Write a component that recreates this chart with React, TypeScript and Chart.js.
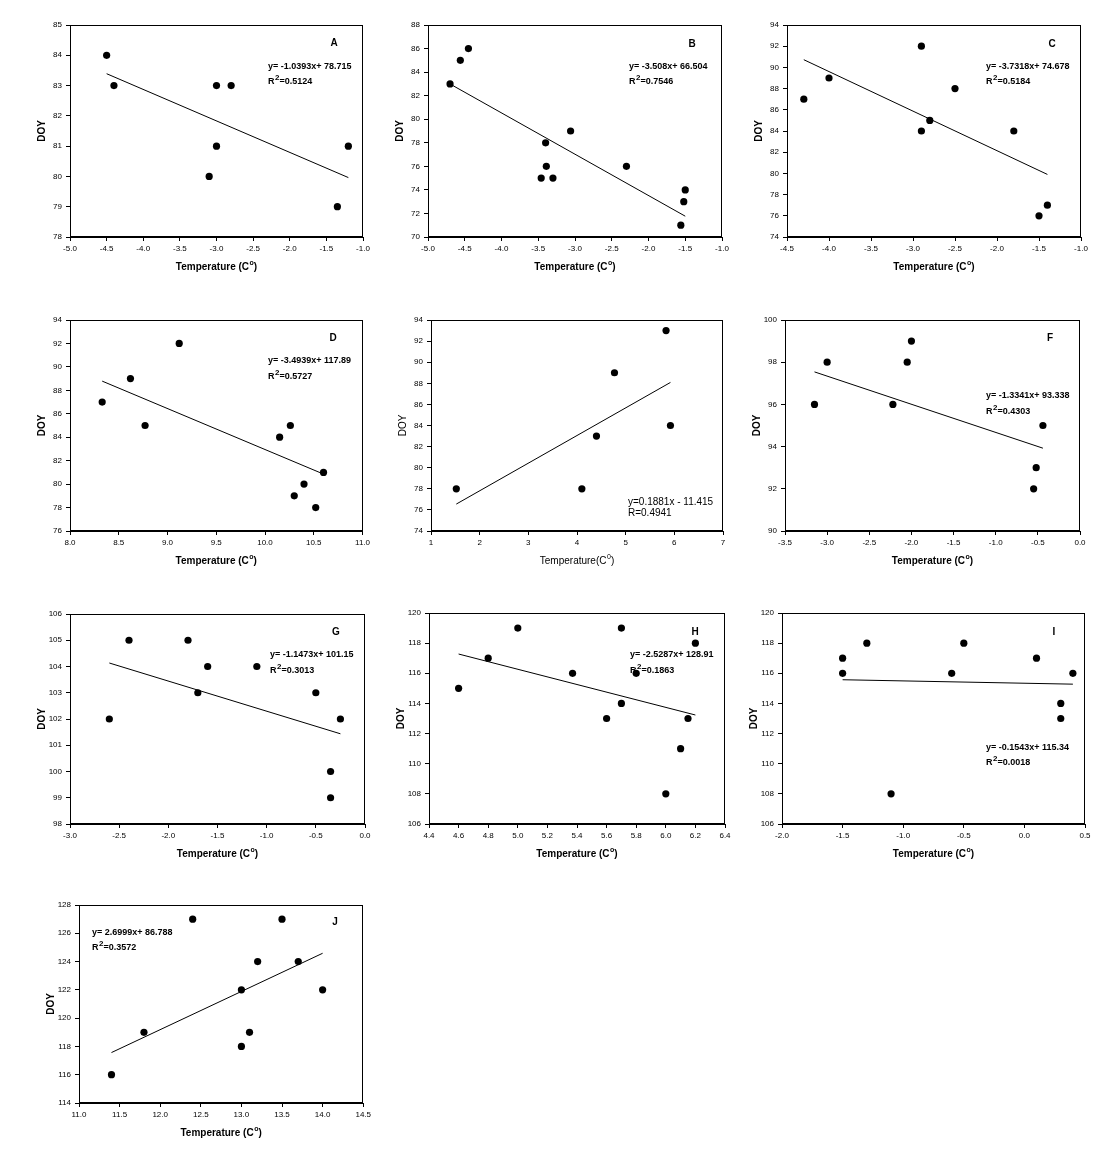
import React, { useEffect, useRef } from "react";
import { Chart, registerables } from "chart.js";

Chart.register(...registerables);

// ---------- data (Temperature °C, DOY) ----------
const tempA = [-4.5, -4.4, -3.0, -2.8, -3.0, -3.1, -1.2, -1.35];
const doyA = [84, 83, 83, 83, 81, 80, 81, 79];

const tempB = [-4.7, -4.56, -4.45, -3.06, -3.4, -3.39, -3.46, -3.3, -2.3, -1.5, -1.52, -1.56];
const doyB = [83, 85, 86, 79, 78, 76, 75, 75, 76, 74, 73, 71];

const tempC = [-4.3, -4.0, -2.9, -2.9, -2.8, -2.5, -1.8, -1.5, -1.4];
const doyC = [87, 89, 92, 84, 85, 88, 84, 76, 77];

const tempD = [8.33, 8.62, 8.77, 9.12, 10.15, 10.26, 10.6, 10.4, 10.3, 10.52];
const doyD = [87, 89, 85, 92, 84, 85, 81, 80, 79, 78];

const tempE = [1.52, 4.1, 4.4, 4.77, 5.83, 5.92];
const doyE = [78, 78, 83, 89, 93, 84];

const tempF = [-3.15, -3.0, -2.22, -2.05, -2.0, -0.44, -0.52, -0.55];
const doyF = [96, 98, 96, 98, 99, 95, 93, 92];

const tempG = [-2.6, -2.4, -1.8, -1.6, -1.7, -1.1, -0.5, -0.25, -0.35, -0.35];
const doyG = [102, 105, 105, 104, 103, 104, 103, 102, 100, 99];

const tempH = [4.6, 4.8, 5.0, 5.37, 5.6, 5.7, 5.7, 5.8, 6.0, 6.1, 6.15, 6.2];
const doyH = [115, 117, 119, 116, 113, 119, 114, 116, 108, 111, 113, 118];

const tempI = [-1.5, -1.5, -1.3, -1.1, -0.6, -0.5, 0.1, 0.3, 0.3, 0.4];
const doyI = [117, 116, 118, 108, 116, 118, 117, 114, 113, 116];

const tempJ = [11.4, 11.8, 12.4, 13.0, 13.0, 13.1, 13.2, 13.5, 13.7, 14.0];
const doyJ = [116, 119, 127, 122, 118, 119, 124, 127, 124, 122];

// trend lines [slope, intercept] (E)
const trendA = [-1.0393, 78.715];
const trendB = [-3.508, 66.504];
const trendC = [-3.7318, 74.678];
const trendD = [-3.4939, 117.89];
const trendE = [2.62, 72.57];
const trendF = [-1.3341, 93.338];
const trendG = [-1.1473, 101.15];
const trendH = [-2.5287, 128.91];
const trendI = [-0.1543, 115.34];
const trendJ = [2.6999, 86.788];

// axis ranges [min, max, step]
const xAxisA = [-5, -1, 0.5], yAxisA = [78, 85, 1];
const xAxisB = [-5, -1, 0.5], yAxisB = [70, 88, 2];
const xAxisC = [-4.5, -1, 0.5], yAxisC = [74, 94, 2];
const xAxisD = [8, 11, 0.5], yAxisD = [76, 94, 2];
const xAxisE = [1, 7, 1], yAxisE = [74, 94, 2];
const xAxisF = [-3.5, 0, 0.5], yAxisF = [90, 100, 2];
const xAxisG = [-3, 0, 0.5], yAxisG = [98, 106, 1];
const xAxisH = [4.4, 6.4, 0.2], yAxisH = [106, 120, 2];
const xAxisI = [-2, 0.5, 0.5], yAxisI = [106, 120, 2];
const xAxisJ = [11, 14.5, 0.5], yAxisJ = [114, 128, 2];

// equation texts
const eqA = ["y= -1.0393x+ 78.715", "R", "2", "=0.5124"];
const eqB = ["y= -3.508x+ 66.504", "R", "2", "=0.7546"];
const eqC = ["y= -3.7318x+ 74.678", "R", "2", "=0.5184"];
const eqD = ["y= -3.4939x+ 117.89", "R", "2", "=0.5727"];
const eqE = ["y=0.1881x - 11.415", "R=0.4941", "", ""];
const eqF = ["y= -1.3341x+ 93.338", "R", "2", "=0.4303"];
const eqG = ["y= -1.1473x+ 101.15", "R", "2", "=0.3013"];
const eqH = ["y= -2.5287x+ 128.91", "R", "2", "=0.1863"];
const eqI = ["y= -0.1543x+ 115.34", "R", "2", "=0.0018"];
const eqJ = ["y= 2.6999x+ 86.788", "R", "2", "=0.3572"];

// ---------- layout ----------
const AX_W = 60; // width reserved for y axis
const AX_H = 45; // height reserved for x axis
const PAD_T = 10;
const PAD_R = 10;
const FONT = "'Liberation Sans', Arial, Helvetica, sans-serif";

type PanelCfg = {
  temps: number[];
  doys: number[];
  trend: number[];
  xAxis: number[];
  yAxis: number[];
  dec: number;
  box: number[]; // plot area l, t, r, b
  letter: string;
  letterAt: number[];
  eq: string[];
  eqAt: number[];
  eqGap: number;
  bold: boolean;
};

const panels: PanelCfg[] = [
  { temps: tempA, doys: doyA, trend: trendA, xAxis: xAxisA, yAxis: yAxisA, dec: 1, box: [70, 25, 363, 237], letter: "A", letterAt: [264, 18], eq: eqA, eqAt: [198, 42], eqGap: 15, bold: true },
  { temps: tempB, doys: doyB, trend: trendB, xAxis: xAxisB, yAxis: yAxisB, dec: 1, box: [428, 25, 722, 237], letter: "B", letterAt: [264, 19], eq: eqB, eqAt: [201, 42], eqGap: 15, bold: true },
  { temps: tempC, doys: doyC, trend: trendC, xAxis: xAxisC, yAxis: yAxisC, dec: 1, box: [787, 25, 1081, 237], letter: "C", letterAt: [265, 19], eq: eqC, eqAt: [199, 42], eqGap: 15, bold: true },
  { temps: tempD, doys: doyD, trend: trendD, xAxis: xAxisD, yAxis: yAxisD, dec: 1, box: [70, 320, 363, 531], letter: "D", letterAt: [263, 18], eq: eqD, eqAt: [198, 41], eqGap: 16, bold: true },
  { temps: tempE, doys: doyE, trend: trendE, xAxis: xAxisE, yAxis: yAxisE, dec: 0, box: [431, 320, 723, 531], letter: "", letterAt: [0, 0], eq: eqE, eqAt: [197, 182], eqGap: 11.5, bold: false },
  { temps: tempF, doys: doyF, trend: trendF, xAxis: xAxisF, yAxis: yAxisF, dec: 1, box: [785, 320, 1080, 531], letter: "F", letterAt: [265, 18], eq: eqF, eqAt: [201, 76], eqGap: 16, bold: true },
  { temps: tempG, doys: doyG, trend: trendG, xAxis: xAxisG, yAxis: yAxisG, dec: 1, box: [70, 614, 365, 824], letter: "G", letterAt: [266, 18], eq: eqG, eqAt: [200, 41], eqGap: 16, bold: true },
  { temps: tempH, doys: doyH, trend: trendH, xAxis: xAxisH, yAxis: yAxisH, dec: 1, box: [429, 613, 725, 824], letter: "H", letterAt: [266, 19], eq: eqH, eqAt: [201, 42], eqGap: 16, bold: true },
  { temps: tempI, doys: doyI, trend: trendI, xAxis: xAxisI, yAxis: yAxisI, dec: 1, box: [782, 613, 1085, 824], letter: "I", letterAt: [272, 19], eq: eqI, eqAt: [204, 135], eqGap: 15, bold: true },
  { temps: tempJ, doys: doyJ, trend: trendJ, xAxis: xAxisJ, yAxis: yAxisJ, dec: 1, box: [79, 905, 364, 1103], letter: "J", letterAt: [256, 17], eq: eqJ, eqAt: [13, 28], eqGap: 15, bold: true },
];

function makeOverlay(p: PanelCfg) {
  return {
    id: "overlay",
    afterDraw(chart: any) {
      const ctx = chart.ctx;
      const ca = chart.chartArea;
      const w = p.bold ? "bold " : "";
      ctx.save();
      // frame
      ctx.strokeStyle = "#000";
      ctx.lineWidth = 1;
      ctx.strokeRect(Math.round(ca.left) + 0.5, Math.round(ca.top) + 0.5, Math.round(ca.right - ca.left) - 1, Math.round(ca.bottom - ca.top) - 1);
      ctx.fillStyle = "#000";
      // panel letter
      if (p.letter) {
        ctx.font = `bold 10px ${FONT}`;
        ctx.textAlign = "center";
        ctx.textBaseline = "middle";
        ctx.fillText(p.letter, ca.left + p.letterAt[0], ca.top + p.letterAt[1]);
      }
      // equation
      const eqSize = p.bold ? 9 : 10;
      ctx.font = `${w}${eqSize}px ${FONT}`;
      ctx.textAlign = "left";
      ctx.textBaseline = "middle";
      const ex = ca.left + p.eqAt[0];
      const ey = ca.top + p.eqAt[1];
      ctx.fillText(p.eq[0], ex, ey);
      const y2 = ey + p.eqGap;
      ctx.fillText(p.eq[1], ex, y2);
      let cx = ex + ctx.measureText(p.eq[1]).width;
      if (p.eq[2]) {
        ctx.font = `${w}8px ${FONT}`;
        ctx.fillText(p.eq[2], cx + 0.5, y2 - 4);
        cx += ctx.measureText(p.eq[2]).width + 0.5;
        ctx.font = `${w}${eqSize}px ${FONT}`;
        ctx.fillText(p.eq[3], cx, y2);
      }
      // x axis title with superscript
      const base = p.bold ? "Temperature (C" : "Temperature(C";
      const sup = p.bold ? "o" : "0";
      const tail = ")";
      const mainFont = `${w}10px ${FONT}`;
      const supFont = `${w}7px ${FONT}`;
      ctx.font = mainFont;
      const w1 = ctx.measureText(base).width;
      const w3 = ctx.measureText(tail).width;
      ctx.font = supFont;
      const w2 = ctx.measureText(sup).width;
      const total = w1 + w2 + w3 + 0.5;
      const tx = (ca.left + ca.right) / 2 - total / 2;
      const ty = ca.bottom + 30;
      ctx.font = mainFont;
      ctx.fillText(base, tx, ty);
      ctx.font = supFont;
      ctx.fillText(sup, tx + w1 + 0.5, ty - 4);
      ctx.font = mainFont;
      ctx.fillText(tail, tx + w1 + w2 + 0.5, ty);
      ctx.restore();
    },
  };
}

function Panel({ p }: { p: PanelCfg }) {
  const ref = useRef<HTMLCanvasElement | null>(null);
  const [l, t, r, b] = p.box;
  const cw = r - l + AX_W + PAD_R;
  const chH = b - t + PAD_T + AX_H;

  useEffect(() => {
    if (!ref.current) return;
    const pts = p.temps.map((x, i) => ({ x, y: p.doys[i] }));
    const [a, c] = p.trend;
    const x0 = Math.min(...p.temps);
    const x1 = Math.max(...p.temps);
    const w = p.bold ? "bold" : "normal";
    const chart = new Chart(ref.current, {
      type: "scatter",
      data: {
        datasets: [
          {
            data: pts,
            backgroundColor: "#000",
            borderColor: "#000",
            pointRadius: 3.6,
            pointHoverRadius: 3.6,
            borderWidth: 0,
            clip: false,
          } as any,
          {
            type: "line",
            data: [
              { x: x0, y: a * x0 + c },
              { x: x1, y: a * x1 + c },
            ],
            borderColor: "#000",
            borderWidth: 1,
            pointRadius: 0,
            showLine: true,
            fill: false,
            clip: false,
          } as any,
        ],
      },
      options: {
        animation: false,
        responsive: false,
        maintainAspectRatio: false,
        events: [],
        layout: { padding: { top: PAD_T, right: PAD_R, left: 0, bottom: 0 } },
        plugins: { legend: { display: false }, tooltip: { enabled: false } },
        scales: {
          x: {
            type: "linear",
            min: p.xAxis[0],
            max: p.xAxis[1],
            afterFit: (s: any) => {
              s.height = AX_H;
            },
            ticks: {
              stepSize: p.xAxis[2],
              autoSkip: false,
              maxRotation: 0,
              padding: 3,
              color: "#000",
              font: { size: 8, family: FONT },
              callback: (v: any) => Number(v).toFixed(p.dec),
            },
            grid: { drawOnChartArea: false, drawTicks: true, tickLength: 4, color: "#000" },
            border: { color: "#000" },
          },
          y: {
            type: "linear",
            min: p.yAxis[0],
            max: p.yAxis[1],
            afterFit: (s: any) => {
              s.width = AX_W;
            },
            ticks: {
              stepSize: p.yAxis[2],
              autoSkip: false,
              padding: 4,
              color: "#000",
              font: { size: 8, family: FONT },
              callback: (v: any) => Number(v).toFixed(0),
            },
            grid: { drawOnChartArea: false, drawTicks: true, tickLength: 4, color: "#000" },
            border: { color: "#000" },
            title: {
              display: true,
              text: "DOY",
              color: "#000",
              font: { size: 10, weight: w as any, family: FONT },
              padding: { top: 26, bottom: 0 },
            },
          },
        },
      } as any,
      plugins: [makeOverlay(p)],
    });
    return () => chart.destroy();
  }, []);

  return (
    <canvas
      ref={ref}
      width={cw}
      height={chH}
      style={{ position: "absolute", left: l - AX_W, top: t - PAD_T, width: cw, height: chH }}
    />
  );
}

export default function App() {
  return (
    <div style={{ position: "absolute", left: 0, top: 0, width: 1101, height: 1156, background: "#fff" }}>
      {panels.map((p, i) => (
        <Panel key={i} p={p} />
      ))}
    </div>
  );
}
